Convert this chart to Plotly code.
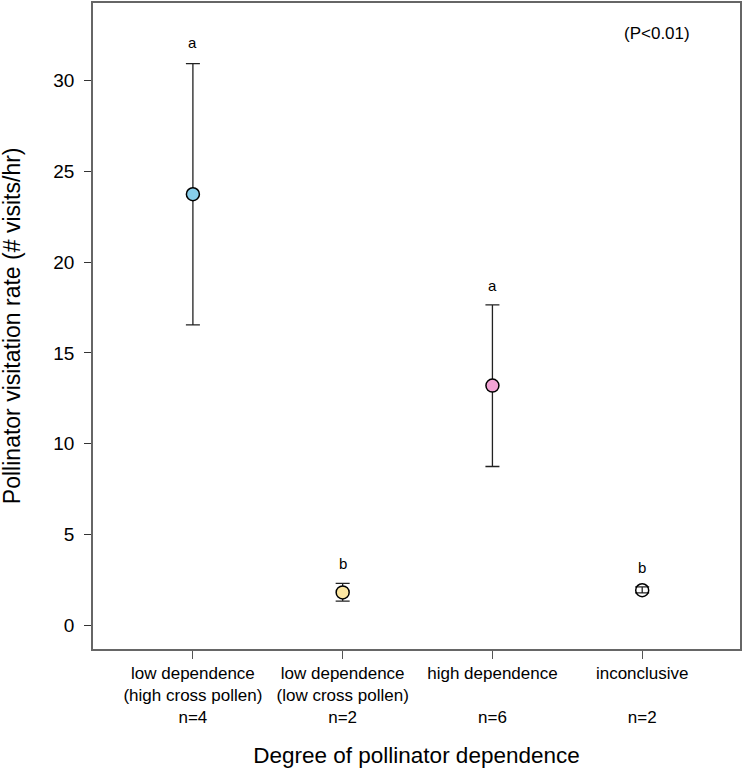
import plotly.graph_objects as go

categories = ["low dependence<br>(high cross pollen)", "low dependence<br>(low cross pollen)",
              "high dependence", "inconclusive"]
n_labels = ["n=4", "n=2", "n=6", "n=2"]
means = [23.75, 1.8, 13.2, 1.92]
upper = [30.95, 2.3, 17.65, 2.1]
lower = [16.55, 1.32, 8.74, 1.77]
letters = ["a", "b", "a", "b"]
letter_y = [32.1, 3.4, 18.7, 3.2]
colors = ["#87CEEB", "#FDE7A2", "#F2A3D4", "rgba(0,0,0,0)"]

x = list(range(len(categories)))
ticktext = []
for c, n in zip(categories, n_labels):
    if "<br>" in c:
        ticktext.append(c + "<br>" + n)
    else:
        ticktext.append(c + "<br> <br>" + n)

fig = go.Figure()
fig.add_trace(go.Scatter(
    x=x, y=means, mode="markers",
    marker=dict(size=13, color=colors, line=dict(color="black", width=1.5)),
    error_y=dict(type="data", symmetric=False,
                 array=[u - m for u, m in zip(upper, means)],
                 arrayminus=[m - l for m, l in zip(means, lower)],
                 color="#222222", thickness=1.3, width=7),
    showlegend=False,
))

for xi, t, ly in zip(x, letters, letter_y):
    fig.add_annotation(x=xi, y=ly, text=t, showarrow=False,
                       font=dict(size=15, color="black"))

fig.add_annotation(x=3.1, y=32.6, text="(P<0.01)", showarrow=False,
                   font=dict(size=17, color="black"))

# y title placed by hand so it sits near the left edge like the original
fig.add_annotation(xref="paper", yref="paper", x=-0.125, y=0.5,
                   text="Pollinator visitation rate (# visits/hr)",
                   textangle=-90, showarrow=False, xanchor="center",
                   yanchor="middle", font=dict(size=23, color="black"))

fig.update_layout(
    width=743, height=770,
    margin=dict(l=93, r=2, t=1, b=121),
    paper_bgcolor="white", plot_bgcolor="white",
    font=dict(family="Liberation Sans, Arial, sans-serif", color="black"),
    xaxis=dict(range=[-0.667, 3.653], tickvals=x, ticktext=ticktext,
               tickfont=dict(size=17), ticks="outside", ticklen=8,
               tickcolor="#555555", showline=True, linecolor="#666666",
               linewidth=1.5, mirror=True, showgrid=False, zeroline=False,
               title=dict(text="Degree of pollinator dependence",
                          font=dict(size=22.5), standoff=21)),
    yaxis=dict(range=[-1.32, 34.29], tickvals=[0, 5, 10, 15, 20, 25, 30],
               tickfont=dict(size=19), ticks="outside", ticklen=7,
               ticklabelstandoff=6,
               tickcolor="#333333", showline=True, linecolor="#666666",
               linewidth=1.5, mirror=True, showgrid=False, zeroline=False),
)

fig.write_html("out.html", config={"displayModeBar": False},
               post_script="document.body.style.margin='0';")
